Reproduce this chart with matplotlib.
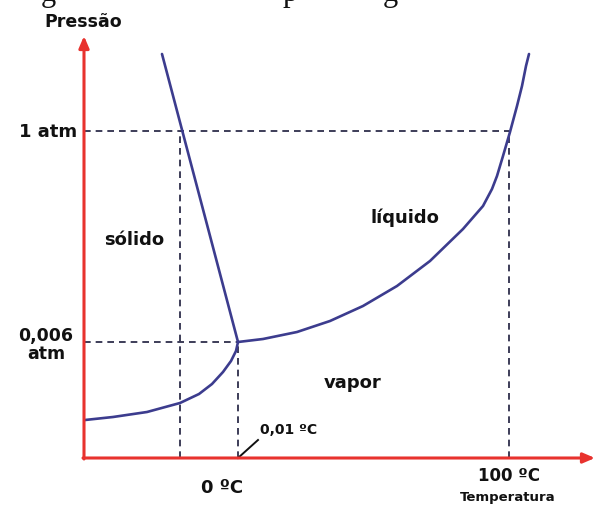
import matplotlib
matplotlib.use('Agg')
import matplotlib.pyplot as plt

# diagram units: x = temperature axis position, y = pressure axis position
sub_x = [1, 29, 63, 96, 115, 128, 139, 147, 152, 154]
sub_y = [38, 41, 46, 55, 64, 74, 86, 97, 107, 116]

vap_x = [154, 179, 213, 246, 279, 313, 346, 379, 399, 408, 413, 419, 426, 433, 438, 442, 445]
vap_y = [116, 119, 126, 137, 152, 172, 197, 229, 252, 269, 282, 302, 326, 352, 372, 392, 404]

fus_x = [154, 78]
fus_y = [116, 404]

triple = (154, 116)
p_1atm = 327
t_0c = 96
t_100c = 425

blue = '#3c3c8e'
red = '#e8322e'
dash = '#1c1c3c'

fig = plt.figure(figsize=(5.95, 5.10), dpi=100)
ax = fig.add_axes([0, 0, 1, 1])
ax.set_xlim(-84, 511)
ax.set_ylim(-51, 459)
ax.axis('off')

# guide lines
kw = dict(color=dash, lw=1.2, ls=(0, (4, 3)), zorder=1)
ax.plot([0, t_100c], [p_1atm, p_1atm], **kw)
ax.plot([t_100c, t_100c], [0, p_1atm], **kw)
ax.plot([t_0c, t_0c], [0, p_1atm], **kw)
ax.plot([0, triple[0]], [triple[1], triple[1]], **kw)
ax.plot([triple[0], triple[0]], [0, triple[1]], **kw)

# phase boundaries
line = dict(color=blue, lw=1.9, solid_capstyle='round', solid_joinstyle='round', zorder=3)
ax.plot(sub_x, sub_y, **line)
ax.plot(vap_x, vap_y, **line)
ax.plot(fus_x, fus_y, **line)

# axes arrows
arr = dict(arrowstyle='-|>,head_length=0.7,head_width=0.3', color=red, lw=2.2,
           shrinkA=0, shrinkB=0)
ax.annotate('', xy=(0, 422), xytext=(0, -1), arrowprops=arr, zorder=4)
ax.annotate('', xy=(511, 0), xytext=(-1, 0), arrowprops=arr, zorder=4)

bold = dict(fontweight='bold', family='DejaVu Sans', color='#111111')
ax.text(-1, 437, 'Pressão', ha='center', va='center', fontsize=12.5, **bold)
ax.text(-7, p_1atm, '1 atm', ha='right', va='center', fontsize=13, **bold)
ax.text(-38, 114, '0,006\natm', ha='center', va='center', fontsize=12.5,
        linespacing=1.05, **bold)
ax.text(50, 219, 'sólido', ha='center', va='center', fontsize=13, **bold)
ax.text(321, 241, 'líquido', ha='center', va='center', fontsize=13, **bold)
ax.text(269, 76, 'vapor', ha='center', va='center', fontsize=13, **bold)
ax.text(176, 29, '0,01 ºC', ha='left', va='center', fontsize=10, **bold)
ax.plot([triple[0], 174], [0, 18], color='#111111', lw=1.4, zorder=2)
ax.text(138, -29, '0 ºC', ha='center', va='center', fontsize=13, **bold)
ax.text(425, -17, '100 ºC', ha='center', va='center', fontsize=12, **bold)
ax.text(424, -39, 'Temperatura', ha='center', va='center', fontsize=9.5, **bold)

# cut-off caption remnants at the top edge
for gx, ch in [(-36, 'g'), (206, 'p'), (306, 'g')]:
    ax.text(gx, 458.5, ch, ha='center', va='baseline', fontsize=22,
            family='Liberation Serif', color='#111111')

fig.savefig('out.png', dpi=100)
